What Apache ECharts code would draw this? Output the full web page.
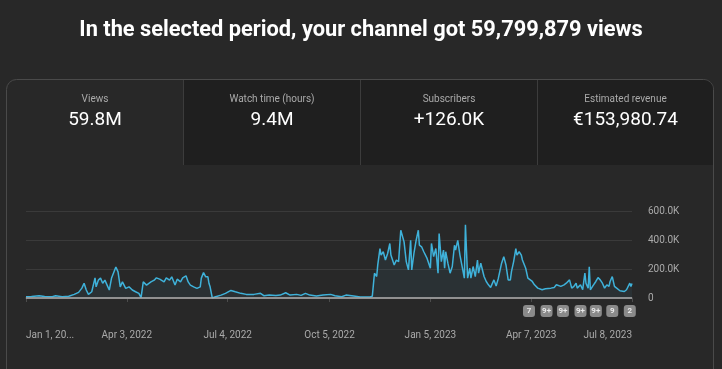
<!DOCTYPE html>
<html><head><meta charset="utf-8">
<script src="https://cdn.jsdelivr.net/npm/echarts@6/dist/echarts.min.js"></script>
<style>html,body{margin:0;padding:0;background:#282828;}#c{width:722px;height:369px;}</style>
</head><body><div id="c"></div>
<script>
// Daily views (in thousands); x = days since Jan 1, 2022
const dayOffsets = [0,5,12,17,24,27,33,39,44,48,51,53,55,57,60,63,64,66,68,70,72,74,76,78,82,84,86,88,91,94,97,100,103,105,107,108,110,114,117,119,122,126,128,131,133,136,138,141,143,146,148,150,153,156,159,160,162,164,166,167,168,170,173,178,182,187,191,196,201,208,214,217,222,228,232,237,241,247,251,255,259,265,271,278,282,288,292,299,305,310,314,316,317,318,320,321,323,324,326,328,330,332,333,336,338,340,342,345,347,349,351,352,354,356,358,359,361,363,366,369,370,372,374,376,377,379,381,382,383,385,387,389,391,392,394,396,398,400,401,403,405,406,408,410,412,413,415,418,420,422,424,427,429,431,434,436,438,440,442,443,445,447,448,450,452,453,456,458,462,464,467,471,474,479,482,484,488,491,493,496,498,500,502,503,506,508,510,511,513,514,515,517,520,522,524,526,528,530,532,533,535,537,539,542,543,546,548,551,552,553];
const viewsK = [9,10,16,10,9,15,9,12,25,39,68,102,55,25,43,139,77,123,137,102,123,89,55,136,214,180,77,111,66,77,55,43,32,2,111,100,89,111,123,139,130,111,139,123,146,89,130,111,139,153,111,89,77,66,77,137,175,146,146,100,77,0,9,20,32,52,43,32,25,25,32,16,20,18,20,36,20,25,18,32,20,14,20,25,16,9,20,14,7,7,7,12,91,171,148,228,341,296,319,262,307,376,296,228,262,251,467,387,251,194,398,194,307,398,467,364,353,319,273,205,376,285,341,171,444,251,330,205,319,240,171,217,364,330,398,296,217,137,505,137,205,137,217,148,262,171,240,148,114,91,73,125,82,135,240,285,228,125,125,182,251,341,296,319,296,262,205,137,114,91,68,57,64,68,73,91,80,91,102,125,68,80,102,68,91,57,171,102,68,216,57,80,114,141,125,102,68,91,80,114,148,80,68,50,57,45,57,102,80,100];

const tickDays = [0,92,184,277,369,461,553];
const tickLabels = ['Jan 1, 20...','Apr 3, 2022','Jul 4, 2022','Oct 5, 2022','Jan 5, 2023','Apr 7, 2023','Jul 8, 2023'];
const yTicks = [0,200,400,600];
const yTickLabels = ['0','200.0K','400.0K','600.0K'];

const badgeDays = [459,475,490,506,520,535,551];
const badgeLabels = ['7','9+','9+','9+','9+','9','2'];

const headline = 'In the selected period, your channel got 59,799,879 views';
const cardTitles = ['Views','Watch time (hours)','Subscribers','Estimated revenue'];
const cardValues = ['59.8M','9.4M','+126.0K','€153,980.74'];

const chart = echarts.init(document.getElementById('c'));
const FONT = 'Roboto, "Noto Sans", sans-serif';

const dividers = [6.5,183.5,360.5,537.5,713.5];
const cardTop = 80, cardH = 85;
const graphics = [
  {type:'rect', z:-10, shape:{x:6.5,y:79.5,width:707,height:320,r:10}, style:{fill:'#282828',stroke:'#4a4a4a',lineWidth:1}},
  {type:'text', left:'center', top:20, style:{text:headline, fill:'#ffffff', font:'bold 21.8px '+FONT}}
];
cardTitles.forEach((t,i)=>{
  const x0 = dividers[i], x1 = dividers[i+1];
  if(i>0){
    graphics.push({type:'rect', z:-9, shape:{x:x0+0.5,y:cardTop,width:x1-x0-1,height:cardH,r:i===3?[0,9,0,0]:0}, style:{fill:'#1f1f1f'}});
    graphics.push({type:'line', z:-8, shape:{x1:x0,y1:cardTop,x2:x0,y2:cardTop+cardH}, style:{stroke:'#3c3c3c',lineWidth:1}});
  }
  const cx = (x0+x1)/2;
  graphics.push({type:'text', z:5, x:cx, y:99, style:{text:t, fill:'#aaaaaa', font:'10px '+FONT, textAlign:'center', textVerticalAlign:'middle'}});
  graphics.push({type:'text', z:5, x:cx, y:120, style:{text:cardValues[i], fill:'#ffffff', font:'19px '+FONT, textAlign:'center', textVerticalAlign:'middle'}});
});

chart.setOption({
  backgroundColor:'#282828',
  animation:false,
  textStyle:{fontFamily:FONT},
  graphic:graphics,
  grid:{left:26,right:90,top:211,bottom:71,containLabel:false},
  xAxis:{
    type:'value', min:0, max:553, offset:24,
    splitLine:{show:false},
    axisLine:{show:true,lineStyle:{color:'#4c4c4c',width:1.5}},
    axisTick:{show:true,length:4,lineStyle:{color:'#4c4c4c'},customValues:tickDays},
    axisLabel:{customValues:tickDays, color:'#aaaaaa', fontSize:10, margin:8,
      alignMinLabel:'left', alignMaxLabel:'right',
      formatter:v=>tickLabels[tickDays.indexOf(v)] ?? ''}
  },
  yAxis:{
    type:'value', position:'right', min:0, max:600, interval:200,
    axisLine:{show:false}, axisTick:{show:false},
    splitLine:{lineStyle:{color:'#3a3a3a',width:1}},
    axisLabel:{color:'#aaaaaa', fontSize:10, margin:16,
      formatter:v=>yTickLabels[yTicks.indexOf(v)] ?? ''}
  },
  series:[
    {type:'line', data:dayOffsets.map((d,i)=>[d,viewsK[i]]), showSymbol:false, symbol:'none',
      lineStyle:{color:'#3fb2da',width:1.5},
      areaStyle:{color:'rgba(64,170,210,0.1)'},
      markLine:{silent:true,symbol:'none',label:{show:false},lineStyle:{color:'#aaaaaa',width:1.5,type:'solid'},data:[{yAxis:0}]},
      z:3},
    {type:'scatter', clip:false, data:badgeDays.map(d=>[d,0]), symbol:'roundRect', symbolSize:[12,12], symbolOffset:[0,13],
      itemStyle:{color:'#a2a2a2'},
      label:{show:true,position:'inside',color:'#ffffff',fontSize:8,fontWeight:'bold',formatter:p=>badgeLabels[p.dataIndex]},
      z:4}
  ]
});
</script></body></html>
